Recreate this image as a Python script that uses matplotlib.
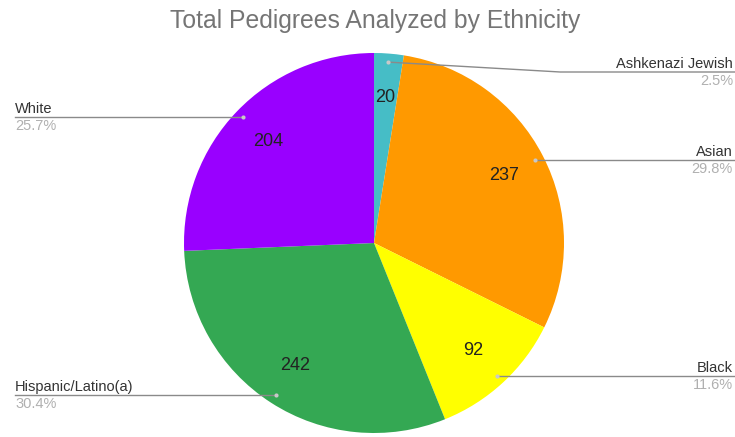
import numpy as np
import matplotlib.pyplot as plt

plt.rcParams['font.family'] = ['Liberation Sans', 'DejaVu Sans']

# data
groups = ["Ashkenazi Jewish", "Asian", "Black", "Hispanic/Latino(a)", "White"]
counts = [20, 237, 92, 242, 204]
colors = ["#46bdc6", "#ff9900", "#ffff00", "#34a853", "#9900ff"]

W, H = 735, 437
cx, cy, r = 374, H - 243, 190

fig = plt.figure(figsize=(W / 100, H / 100), dpi=100)
ax = fig.add_axes([0, 0, 1, 1])

total = sum(counts)
wedges, _, autotexts = ax.pie(
    counts, colors=colors, startangle=90, counterclock=False,
    center=(cx, cy), radius=r,
    autopct=lambda p: f"{round(p * total / 100):d}", pctdistance=0.77,
    textprops=dict(fontsize=13, color="#222222"),
    wedgeprops=dict(linewidth=0))
ax.set_xlim(0, W)
ax.set_ylim(0, H)
ax.set_aspect("equal")
ax.axis("off")

# title
ax.text(375, H - 28, "Total Pedigrees Analyzed by Ethnicity", ha="center",
        va="baseline", fontsize=17.8, color="#757575")

# callout labels with lines
for w, name, n in zip(wedges, groups, counts):
    ang = np.deg2rad((w.theta1 + w.theta2) / 2)
    dx, dy = np.cos(ang), np.sin(ang)
    px, py = cx + 0.955 * r * dx, cy + 0.955 * r * dy
    ly = min(py, H - 72)  # keep clear of the title
    pct = f"{n / total * 100:.1f}%"
    if dx >= 0:
        knee = cx + 0.98 * r if ly != py else px
        ax.plot([px, knee, W], [py, ly, ly], color="#8a8a8a", lw=1, zorder=3)
        tx, ha = W - 2, "right"
    else:
        ax.plot([px, 15], [py, ly], color="#8a8a8a", lw=1, zorder=3)
        tx, ha = 15, "left"
    ax.plot(px, py, "o", ms=3, color="#c8c8c8", mec="none", zorder=4)
    ax.text(tx, ly + 4, name, ha=ha, va="baseline", fontsize=10.5, color="#333333")
    ax.text(tx, ly - 2, pct, ha=ha, va="top", fontsize=10.5, color="#b0b0b0")

fig.savefig("out.png", dpi=100)
